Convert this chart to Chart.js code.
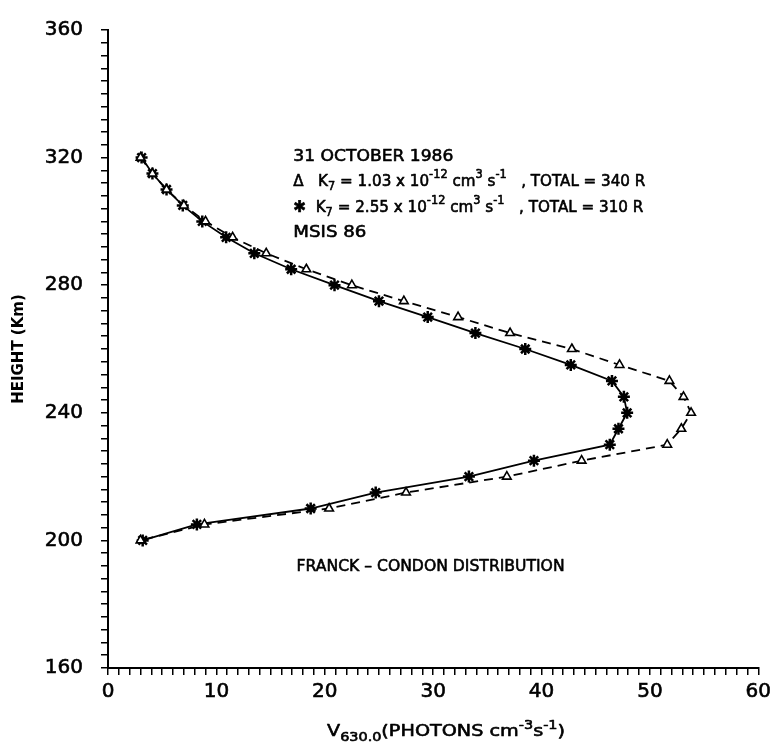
<!DOCTYPE html>
<html>
<head>
<meta charset="utf-8">
<script src="https://cdn.jsdelivr.net/npm/chart.js@4.4.1/dist/chart.umd.min.js"></script>
<style>
  html, body { margin: 0; padding: 0; background: #fff; }
  #wrap { width: 776px; height: 744px; }
</style>
</head>
<body>
<div id="wrap"><canvas id="c" width="776" height="744"></canvas></div>
<script>
// Volume emission rate of the 630.0 nm line versus height, 31 October 1986
const heightsKm = [320, 315, 310, 305, 300, 295, 290, 285, 280, 275, 270, 265, 260,
                   255, 250, 245, 240, 235, 230, 225, 220, 215, 210, 205, 200];
// K7 = 1.03e-12 cm3 s-1 (triangles, dashed)
const emissionK103 = [3.0, 4.1, 5.4, 7.0, 9.0, 11.5, 14.6, 18.3, 22.5, 27.3, 32.3, 37.1, 42.8,
                      47.2, 51.8, 53.1, 53.8, 52.9, 51.6, 43.7, 36.8, 27.5, 20.4, 8.9, 3.0];
// K7 = 2.55e-12 cm3 s-1 (stars, solid)
const emissionK255 = [3.1, 4.1, 5.4, 6.9, 8.7, 10.9, 13.5, 16.9, 20.9, 25.0, 29.5, 33.9, 38.5,
                      42.7, 46.5, 47.6, 47.9, 47.1, 46.3, 39.3, 33.3, 24.7, 18.7, 8.2, 3.2];
const xTickLabels = ['0', '10', '20', '30', '40', '50', '60'];
const yTickLabels = ['160', '200', '240', '280', '320', '360'];

const FONT = '"DejaVu Sans", sans-serif';
const INK = '#000';

// Draws a run of text pieces (normal, sub- and superscript) stretched to a given width.
function drawRich(ctx, x, y, parts, base, targetWidth) {
  let natural = 0;
  const widths = parts.map(p => {
    ctx.font = `${p.bold ? 'bold ' : ''}${Math.round(base * (p.s || 1))}px ${FONT}`;
    const w = ctx.measureText(p.t).width;
    natural += w;
    return w;
  });
  const k = targetWidth ? targetWidth / natural : 1;
  ctx.save();
  ctx.translate(x, y);
  ctx.scale(k, 1);
  ctx.fillStyle = INK;
  ctx.strokeStyle = INK;
  ctx.lineWidth = 0.6;
  ctx.lineJoin = 'round';
  ctx.textBaseline = 'alphabetic';
  ctx.textAlign = 'left';
  let cx = 0;
  parts.forEach((p, i) => {
    ctx.font = `${p.bold ? 'bold ' : ''}${Math.round(base * (p.s || 1))}px ${FONT}`;
    ctx.fillText(p.t, cx, p.dy || 0);
    ctx.strokeText(p.t, cx, p.dy || 0);
    cx += widths[i];
  });
  ctx.restore();
}

const SUP = { s: 0.72, dy: -8 };
const SUB = { s: 0.72, dy: 4 };

const notes = [
  { x: 17.1, y: 318.8, w: 160, parts: [{ t: '31 OCTOBER 1986' }] },
  { x: 17.1, y: 311.0, w: 352, parts: [
      { t: 'Δ   K' }, { t: '7', ...SUB }, { t: ' = 1.03 x 10' }, { t: '-12', ...SUP },
      { t: ' cm' }, { t: '3', ...SUP }, { t: ' s' }, { t: '-1', ...SUP }, { t: '   , TOTAL = 340 R' }] },
  { x: 17.1, y: 303.0, w: 350, parts: [
      { t: '✱  K' }, { t: '7', ...SUB }, { t: ' = 2.55 x 10' }, { t: '-12', ...SUP },
      { t: ' cm' }, { t: '3', ...SUP }, { t: ' s' }, { t: '-1', ...SUP }, { t: '   , TOTAL = 310 R' }] },
  { x: 17.1, y: 295.2, w: 73, parts: [{ t: 'MSIS 86' }] },
  { x: 17.4, y: 190.4, w: 268, parts: [{ t: 'FRANCK – CONDON DISTRIBUTION' }] }
];

const textPlugin = {
  id: 'textPlugin',
  afterDraw(chart) {
    const { ctx, scales } = chart;
    notes.forEach(n => {
      drawRich(ctx, scales.x.getPixelForValue(n.x), scales.y.getPixelForValue(n.y), n.parts, 16, n.w);
    });
    // x-axis title with subscript and superscripts
    drawRich(ctx, 327, 736, [
      { t: 'V' }, { t: '630.0', s: 0.75, dy: 5 }, { t: '(PHOTONS cm' }, { t: '-3', s: 0.75, dy: -7 },
      { t: 's' }, { t: '-1', s: 0.75, dy: -7 }, { t: ')' }], 16, 238);
  }
};

const pts = vals => heightsKm.map((h, i) => ({ x: vals[i], y: h }));

new Chart(document.getElementById('c'), {
  type: 'scatter',
  data: {
    datasets: [
      {
        label: 'K7 = 1.03',
        data: pts(emissionK103),
        showLine: true,
        borderColor: INK,
        borderWidth: 1.8,
        borderDash: [9, 6],
        pointStyle: 'triangle',
        pointRadius: 5,
        pointBorderWidth: 1.6,
        pointBackgroundColor: '#fff',
        pointBorderColor: INK,
        tension: 0
      },
      {
        label: 'K7 = 2.55',
        data: pts(emissionK255),
        showLine: true,
        borderColor: INK,
        borderWidth: 1.8,
        pointStyle: 'star',
        pointRadius: 6,
        pointBorderWidth: 2.5,
        pointBackgroundColor: INK,
        pointBorderColor: INK,
        tension: 0
      }
    ]
  },
  options: {
    responsive: false,
    animation: false,
    devicePixelRatio: 1,
    layout: { padding: { top: 23, right: 16, left: 0, bottom: 0 } },
    plugins: { legend: { display: false }, tooltip: { enabled: false } },
    scales: {
      x: {
        type: 'linear',
        min: 0, max: 60,
        afterFit: s => { s.height = 76; },
        ticks: {
          stepSize: 1, autoSkip: false, maxRotation: 0, padding: 5,
          color: INK, font: { family: FONT, size: 20 },
          textStrokeColor: INK, textStrokeWidth: 0.6,
          callback: v => xTickLabels.includes(String(v)) ? String(v) : ''
        },
        grid: { drawOnChartArea: false, drawTicks: true, tickLength: 7, color: INK, lineWidth: 1.5 },
        border: { color: INK, width: 2 }
      },
      y: {
        type: 'linear',
        min: 160, max: 360,
        afterFit: s => { s.width = 108; },
        title: {
          display: true, text: 'HEIGHT (Km)', color: INK,
          font: { family: FONT, size: 15, weight: 'bold' },
          padding: { top: 10, bottom: 0 }
        },
        ticks: {
          stepSize: 4, autoSkip: false, padding: 18,
          color: INK, font: { family: FONT, size: 20 },
          textStrokeColor: INK, textStrokeWidth: 0.6,
          callback: v => yTickLabels.includes(String(v)) ? String(v) : ''
        },
        grid: { drawOnChartArea: false, drawTicks: true, tickLength: 7, color: INK, lineWidth: 1.5 },
        border: { color: INK, width: 2 }
      }
    }
  },
  plugins: [textPlugin]
});
</script>
</body>
</html>
